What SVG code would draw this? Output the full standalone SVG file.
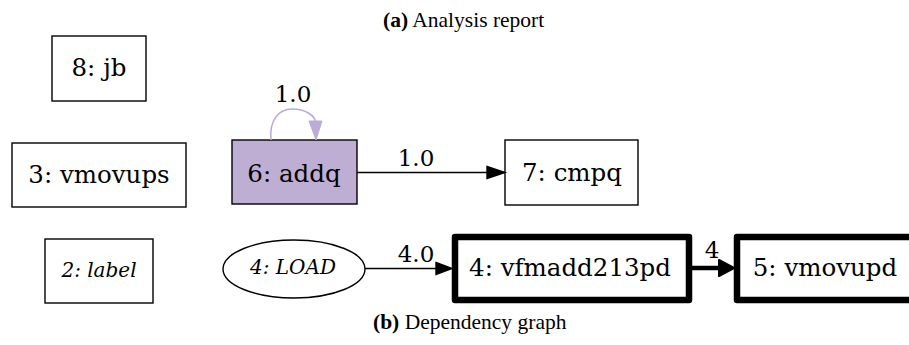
<svg xmlns="http://www.w3.org/2000/svg" width="909" height="345" viewBox="0 0 909 345">
  <style>
    .cap { font-family: "Liberation Serif", "Times New Roman", serif; font-size: 21.5px; fill: #000; }
    .cap b { font-weight: bold; }
    .lbl { font-family: "DejaVu Serif", serif; font-size: 24.5px; fill: #000; text-anchor: middle; }
    .ital { font-family: "DejaVu Serif", serif; font-size: 20px; font-style: italic; fill: #000; text-anchor: middle; }
    .elbl { font-family: "DejaVu Serif", serif; font-size: 23px; fill: #000; text-anchor: middle; }
    .box { fill: #fff; stroke: #000; stroke-width: 1.4; }
    .hot { fill: #fff; stroke: #000; stroke-width: 6.5; stroke-linejoin: round; }
    .edge { fill: none; stroke: #000; stroke-width: 1.4; }
  </style>

  <!-- captions -->
  <text class="cap" x="383" y="27"><tspan font-weight="bold">(a)</tspan> Analysis report</text>
  <text class="cap" x="373" y="329"><tspan font-weight="bold">(b)</tspan> Dependency graph</text>

  <!-- nodes -->
  <g id="node-8">
    <rect class="box" x="52" y="36" width="94" height="65"/>
    <text class="lbl" x="99" y="76">8: jb</text>
  </g>
  <g id="node-3">
    <rect class="box" x="12" y="143" width="174" height="64"/>
    <text class="lbl" x="99" y="183">3: vmovups</text>
  </g>
  <g id="node-6">
    <rect x="232" y="140" width="125" height="64" fill="#bfaed4" stroke="#000" stroke-width="1.4"/>
    <text class="lbl" x="294" y="182">6: addq</text>
  </g>
  <g id="node-7">
    <rect class="box" x="505" y="140" width="133" height="65"/>
    <text class="lbl" x="572" y="181">7: cmpq</text>
  </g>
  <g id="node-2">
    <rect class="box" x="45" y="239" width="108" height="64"/>
    <text class="ital" x="99" y="277">2: label</text>
  </g>
  <g id="node-load">
    <ellipse cx="294" cy="269" rx="71" ry="29" fill="#fff" stroke="#000" stroke-width="1.4"/>
    <text class="ital" x="293" y="274">4: LOAD</text>
  </g>
  <g id="node-4">
    <rect class="hot" x="455" y="237" width="234" height="63"/>
    <text class="lbl" x="570" y="276">4: vfmadd213pd</text>
  </g>
  <g id="node-5">
    <rect class="hot" x="737" y="237" width="180" height="63"/>
    <text class="lbl" x="825" y="276">5: vmovupd</text>
  </g>

  <!-- connectors -->
  <g id="edges">
    <!-- 6 -> 6 self loop -->
    <path d="M271,140 C269,120 279,109 292,109 C306,109 315,116 315.5,122" fill="none" stroke="#bcabd6" stroke-width="1.5"/>
    <polygon points="309,121 322,121 316,140" fill="#bcabd6" stroke="#bcabd6" stroke-width="1"/>
    <text class="elbl" x="293" y="102">1.0</text>

    <!-- 6 -> 7 -->
    <line class="edge" x1="357" y1="172.5" x2="488" y2="172.5"/>
    <polygon points="487,166.5 505,172.5 487,178.5" fill="#000" stroke="#000" stroke-width="1.4"/>
    <text class="elbl" x="416" y="166">1.0</text>

    <!-- LOAD -> 4 -->
    <line class="edge" x1="365" y1="268.5" x2="437" y2="268.5"/>
    <polygon points="436,262.5 452,268.5 436,274.5" fill="#000" stroke="#000" stroke-width="1.4"/>
    <text class="elbl" x="416" y="262">4.0</text>

    <!-- 4 -> 5 -->
    <line x1="692" y1="268" x2="720" y2="268" stroke="#000" stroke-width="4.5"/>
    <polygon points="719,260 734,268 719,276" fill="#000" stroke="#000" stroke-width="2" stroke-linejoin="round"/>
    <text class="elbl" x="712" y="258">4</text>
  </g>
</svg>
